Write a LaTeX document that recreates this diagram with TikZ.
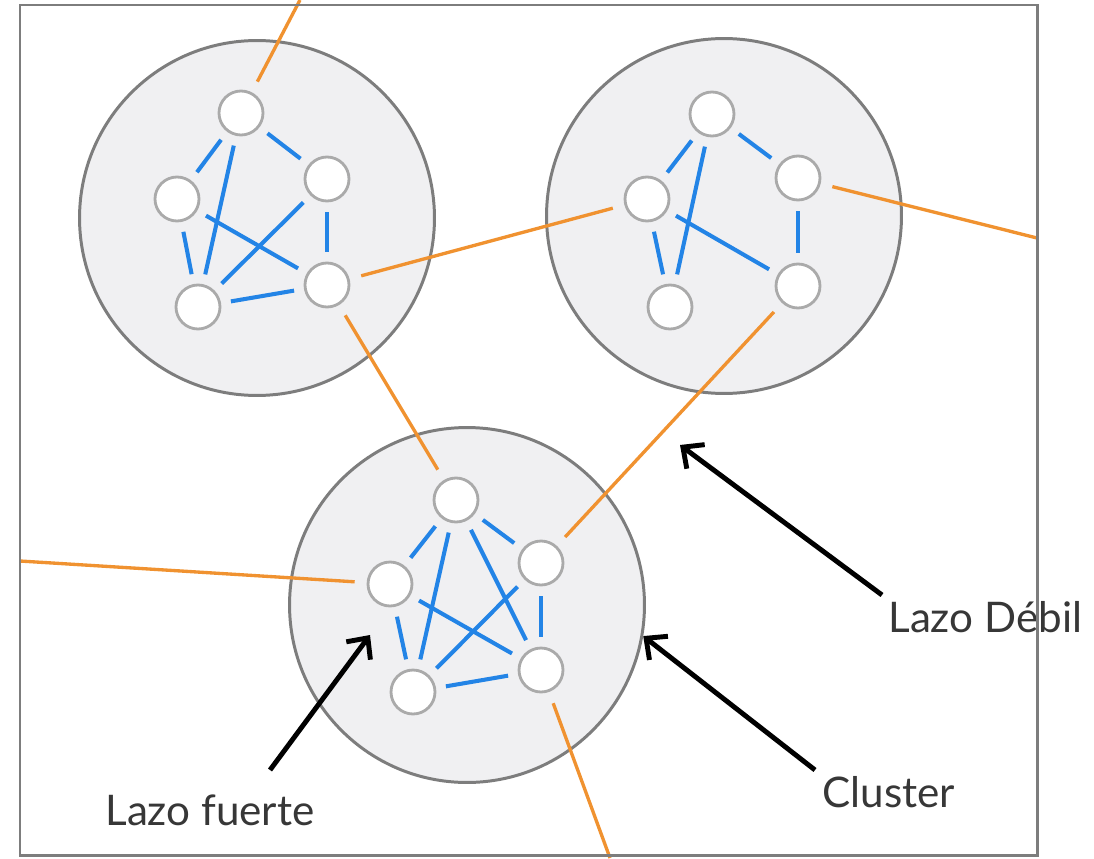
\documentclass[tikz,border=0pt]{standalone}
\usepackage{fontspec}
\setmainfont{Lato}
\usetikzlibrary{arrows.meta}

\definecolor{tiecolor}{RGB}{240,146,48}
\definecolor{bondcolor}{RGB}{35,132,230}
\definecolor{clusterfill}{RGB}{240,240,242}
\definecolor{clusterline}{RGB}{125,125,125}
\definecolor{vertexline}{RGB}{170,170,170}
\definecolor{labelcolor}{RGB}{55,55,55}

\begin{document}
\begin{tikzpicture}[x=0.02cm, y=-0.02cm,
    cluster/.style={circle, draw=clusterline, fill=clusterfill, line width=1.7pt, minimum size=7.1cm, inner sep=0pt},
    vertex/.style={circle, draw=vertexline, fill=white, line width=1.6pt, minimum size=0.88cm, inner sep=0pt},
    bond/.style={bondcolor, line width=2.3pt, shorten >=0.2cm, shorten <=0.2cm},
    tie/.style={tiecolor, line width=1.9pt, shorten >=0.24cm, shorten <=0.24cm},
    pointer/.style={-{Straight Barb[length=0.32cm,width=0.6cm]}, line width=2.8pt, black},
    tag/.style={text=labelcolor, font=\fontsize{24}{29}\selectfont, inner sep=0pt, anchor=base west}]
    \useasboundingbox (0,0) rectangle (1094,858);

    % Clusters
    \node[cluster] (A) at (257,218) {};
    \node[cluster] (B) at (724,216) {};
    \node[cluster] (C) at (467,605) {};

    % Nodes
    \node[vertex] (a1) at (241,113) {};
    \node[vertex] (a2) at (177,199) {};
    \node[vertex] (a3) at (327,179) {};
    \node[vertex] (a4) at (198,307) {};
    \node[vertex] (a5) at (327,285) {};

    \node[vertex] (b1) at (712,114) {};
    \node[vertex] (b2) at (647,199) {};
    \node[vertex] (b3) at (798,178) {};
    \node[vertex] (b4) at (670,307) {};
    \node[vertex] (b5) at (798,286) {};

    \node[vertex] (c1) at (456,500) {};
    \node[vertex] (c2) at (390,584) {};
    \node[vertex] (c3) at (541,563) {};
    \node[vertex] (c4) at (413,692) {};
    \node[vertex] (c5) at (541,670) {};

    % Free ends of the weak ties
    \coordinate (outTop) at (300,0);
    \coordinate (outRight) at (1037,238);
    \coordinate (outLeft) at (20,561);
    \coordinate (outBottom) at (610,858);

    % Strong ties
    \draw[bond] (a1) -- (a2);
    \draw[bond] (a1) -- (a3);
    \draw[bond] (a1) -- (a4);
    \draw[bond] (a2) -- (a4);
    \draw[bond] (a2) -- (a5);
    \draw[bond] (a3) -- (a4);
    \draw[bond] (a3) -- (a5);
    \draw[bond] (a4) -- (a5);

    \draw[bond] (b1) -- (b2);
    \draw[bond] (b1) -- (b3);
    \draw[bond] (b1) -- (b4);
    \draw[bond] (b2) -- (b4);
    \draw[bond] (b2) -- (b5);
    \draw[bond] (b3) -- (b5);

    \draw[bond] (c1) -- (c2);
    \draw[bond] (c1) -- (c3);
    \draw[bond] (c1) -- (c4);
    \draw[bond] (c1) -- (c5);
    \draw[bond] (c2) -- (c4);
    \draw[bond] (c2) -- (c5);
    \draw[bond] (c3) -- (c4);
    \draw[bond] (c3) -- (c5);
    \draw[bond] (c4) -- (c5);

    % Weak ties
    \draw[tie] (a5) -- (b2);
    \draw[tie] (a5) -- (c1);
    \draw[tie] (b5) -- (c3);
    \draw[tie, shorten >=0pt] (a1) -- (outTop);
    \draw[tie, shorten >=0pt] (b3) -- (outRight);
    \draw[tie, shorten >=0pt] (c2) -- (outLeft);
    \draw[tie, shorten >=0pt] (c5) -- (outBottom);

    % Labels
    \node[tag] (weakLbl) at (888,632) {Lazo Débil};
    \node[tag] (clusterLbl) at (822,807) {Cluster};
    \node[tag] (strongLbl) at (105,825) {Lazo fuerte};

    \coordinate (weakTail) at (882,595);
    \coordinate (weakTip) at (680,445);
    \coordinate (clusterTail) at (815,770);
    \coordinate (strongTail) at (270,770);
    \coordinate (strongTip) at (370,635);

    \draw[pointer] (weakTail) -- (weakTip);
    \draw[pointer] (clusterTail) -- (C.-10);
    \draw[pointer] (strongTail) -- (strongTip);

    % Frame
    \draw[clusterline, line width=1.7pt] (20,5) rectangle (1037,855);

\end{tikzpicture}
\end{document}
